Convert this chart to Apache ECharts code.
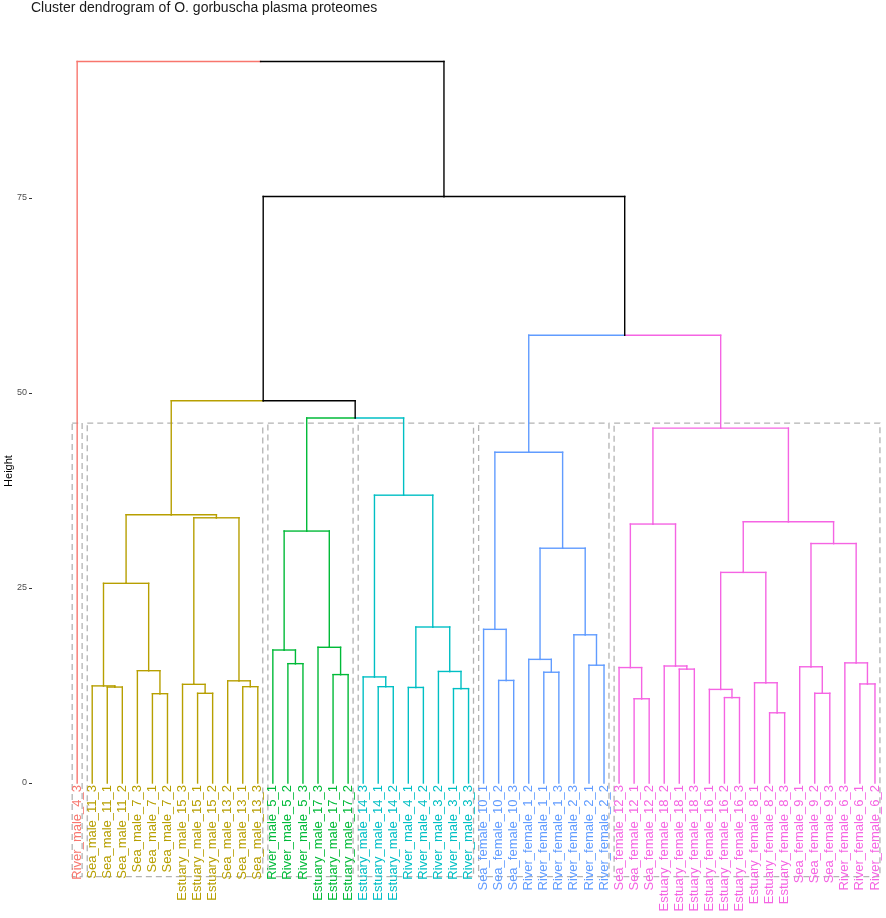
<!DOCTYPE html>
<html>

<head>
  <meta charset="utf-8">
  <title>Cluster dendrogram</title>
  <style>
    html, body { margin: 0; padding: 0; background: #fff; }
    #chart { width: 886px; height: 918px; }
  </style>
</head>

<body>
  <div id="chart"></div>
  <script src="https://cdn.jsdelivr.net/npm/echarts@6/dist/echarts.min.js"></script>

  <script type="text/javascript">
    // leaves, left to right
    var leafLabels = [
      'River_male_4_3',
      'Sea_male_11_3', 'Sea_male_11_1', 'Sea_male_11_2', 'Sea_male_7_3', 'Sea_male_7_1', 'Sea_male_7_2',
      'Estuary_male_15_3', 'Estuary_male_15_1', 'Estuary_male_15_2', 'Sea_male_13_2', 'Sea_male_13_1', 'Sea_male_13_3',
      'River_male_5_1', 'River_male_5_2', 'River_male_5_3', 'Estuary_male_17_3', 'Estuary_male_17_1', 'Estuary_male_17_2',
      'Estuary_male_14_3', 'Estuary_male_14_1', 'Estuary_male_14_2', 'River_male_4_1', 'River_male_4_2',
      'River_male_3_2', 'River_male_3_1', 'River_male_3_3',
      'Sea_female_10_1', 'Sea_female_10_2', 'Sea_female_10_3', 'River_female_1_2', 'River_female_1_1',
      'River_female_1_3', 'River_female_2_3', 'River_female_2_1', 'River_female_2_2',
      'Sea_female_12_3', 'Sea_female_12_1', 'Sea_female_12_2', 'Estuary_female_18_2', 'Estuary_female_18_1',
      'Estuary_female_18_3', 'Estuary_female_16_1', 'Estuary_female_16_2', 'Estuary_female_16_3',
      'Estuary_female_8_1', 'Estuary_female_8_2', 'Estuary_female_8_3', 'Sea_female_9_1', 'Sea_female_9_2',
      'Sea_female_9_3', 'River_female_6_3', 'River_female_6_1', 'River_female_6_2'
    ];
    // cluster (k = 6) of every leaf, index into clusterColors
    var leafCluster = [
      0,
      1, 1, 1, 1, 1, 1, 1, 1, 1, 1, 1, 1,
      2, 2, 2, 2, 2, 2,
      3, 3, 3, 3, 3, 3, 3, 3,
      4, 4, 4, 4, 4, 4, 4, 4, 4,
      5, 5, 5, 5, 5, 5, 5, 5, 5, 5, 5, 5, 5, 5, 5, 5, 5, 5
    ];
    var clusterColors = ['#F8766D', '#B79F00', '#00BA38', '#00BFC4', '#619CFF', '#F564E3'];
    // merges as in hclust: negative = leaf number, positive = earlier merge number, then height
    var merges = [
      [-3, -4, 12.3], [-2, 1, 12.45], [-6, -7, 11.45], [-5, 3, 14.4], [2, 4, 25.6],
      [-9, -10, 11.5], [-8, 6, 12.65], [-12, -13, 12.35], [-11, 8, 13.1], [7, 9, 34.0],
      [5, 10, 34.4],
      [-15, -16, 15.3], [-14, 12, 17.05], [-18, -19, 13.9], [-17, 14, 17.4], [13, 15, 32.3],
      [-21, -22, 12.35], [-20, 17, 13.6], [-23, -24, 12.25], [-26, -27, 12.1], [-25, 20, 14.3],
      [19, 21, 20.0], [18, 22, 36.9],
      [16, 23, 46.8], [11, 24, 49.0],
      [-29, -30, 13.15], [-28, 26, 19.7], [-32, -33, 14.2], [-31, 28, 15.85], [-35, -36, 15.1],
      [-34, 30, 19.0], [29, 31, 30.1], [27, 32, 42.4],
      [-38, -39, 10.8], [-37, 34, 14.8], [-41, -42, 14.6], [-40, 36, 15.0], [35, 37, 33.2],
      [-44, -45, 10.95], [-43, 39, 12.0], [-47, -48, 9.0], [-46, 41, 12.85], [40, 42, 27.0],
      [-50, -51, 11.5], [-49, 44, 14.9], [-53, -54, 12.7], [-52, 46, 15.4], [45, 47, 30.7],
      [43, 48, 33.5], [38, 49, 45.5],
      [33, 50, 57.4], [25, 51, 75.2], [-1, 52, 92.5]
    ];
    var cutHeight = 46.15;
    var rectBottom = -12;
    var rectPad = 0.33;
    var yTicks = [0, 25, 50, 75];

    // branch segments, coloured by the cluster of the child (black when mixed)
    var nodes = [];
    var segments = [];
    function nodeOf(ref) {
      if (ref < 0) return { x: -ref, h: 0, cl: leafCluster[-ref - 1] };
      return nodes[ref - 1];
    }
    merges.forEach(function (m) {
      var a = nodeOf(m[0]), b = nodeOf(m[1]), h = m[2];
      var x = (a.x + b.x) / 2;
      [a, b].forEach(function (c) {
        segments.push([c.x, c.h, c.x, h, c.cl]);
        segments.push([c.x, h, x, h, c.cl]);
      });
      nodes.push({ x: x, h: h, cl: a.cl === b.cl ? a.cl : -1 });
    });

    // dashed boxes round each cluster
    var rects = [];
    clusterColors.forEach(function (c, k) {
      var first = leafCluster.indexOf(k) + 1;
      var last = leafCluster.lastIndexOf(k) + 1;
      rects.push([first - rectPad, rectBottom, last + rectPad, cutHeight]);
    });

    var labelData = leafLabels.map(function (l, i) { return [i + 1, leafCluster[i]]; });

    var chart = echarts.init(document.getElementById('chart'));
    chart.setOption({
      animation: false,
      title: {
        text: 'Cluster dendrogram of O. gorbuscha plasma proteomes',
        left: 31, top: 1, padding: 0,
        textStyle: { fontSize: 14, fontWeight: 'normal', color: '#1a1a1a', fontFamily: 'Liberation Sans, Arial, sans-serif' }
      },
      grid: { left: 32, right: 2, top: 42, bottom: 18, containLabel: false, outerBoundsMode: 'none' },
      xAxis: { type: 'value', min: -2, max: 54.6, show: false },
      yAxis: {
        type: 'value', min: -15, max: 95,
        name: 'Height', nameLocation: 'middle', nameGap: 18, nameRotate: 90, nameMoveOverlap: false,
        nameTextStyle: { fontSize: 11, color: '#000', fontFamily: 'Liberation Sans, Arial, sans-serif' },
        axisLine: { show: false, onZero: false },
        axisTick: { show: true, length: 3, lineStyle: { color: '#333' }, customValues: yTicks },
        axisLabel: { fontSize: 9, color: '#4d4d4d', margin: 5, customValues: yTicks, fontFamily: 'Liberation Sans, Arial, sans-serif' },
        splitLine: { show: false }
      },
      series: [
        {
          type: 'custom', clip: false, data: rects, z: 1,
          renderItem: function (params, api) {
            var p1 = api.coord([api.value(0), api.value(1)]);
            var p2 = api.coord([api.value(2), api.value(3)]);
            return {
              type: 'rect',
              shape: { x: p1[0], y: p2[1], width: p2[0] - p1[0], height: p1[1] - p2[1] },
              style: { fill: 'none', stroke: '#b3b3b3', lineWidth: 1.3, lineDash: [6, 4] }
            };
          }
        },
        {
          type: 'custom', clip: false, data: segments, z: 2,
          renderItem: function (params, api) {
            var p1 = api.coord([api.value(0), api.value(1)]);
            var p2 = api.coord([api.value(2), api.value(3)]);
            var c = api.value(4);
            return {
              type: 'line',
              shape: { x1: p1[0], y1: p1[1], x2: p2[0], y2: p2[1] },
              style: { stroke: c < 0 ? '#000' : clusterColors[c], lineWidth: 1.4, lineCap: 'square' }
            };
          }
        },
        {
          type: 'custom', clip: false, data: labelData, z: 3,
          renderItem: function (params, api) {
            var p = api.coord([api.value(0), 0]);
            return {
              type: 'text', x: p[0], y: p[1] + 2, rotation: Math.PI / 2,
              style: {
                text: leafLabels[params.dataIndex],
                fill: clusterColors[api.value(1)],
                fontSize: 13, fontFamily: 'Liberation Sans, Arial, sans-serif',
                align: 'right', verticalAlign: 'middle'
              }
            };
          }
        }
      ]
    });
  </script>
</body>

</html>
